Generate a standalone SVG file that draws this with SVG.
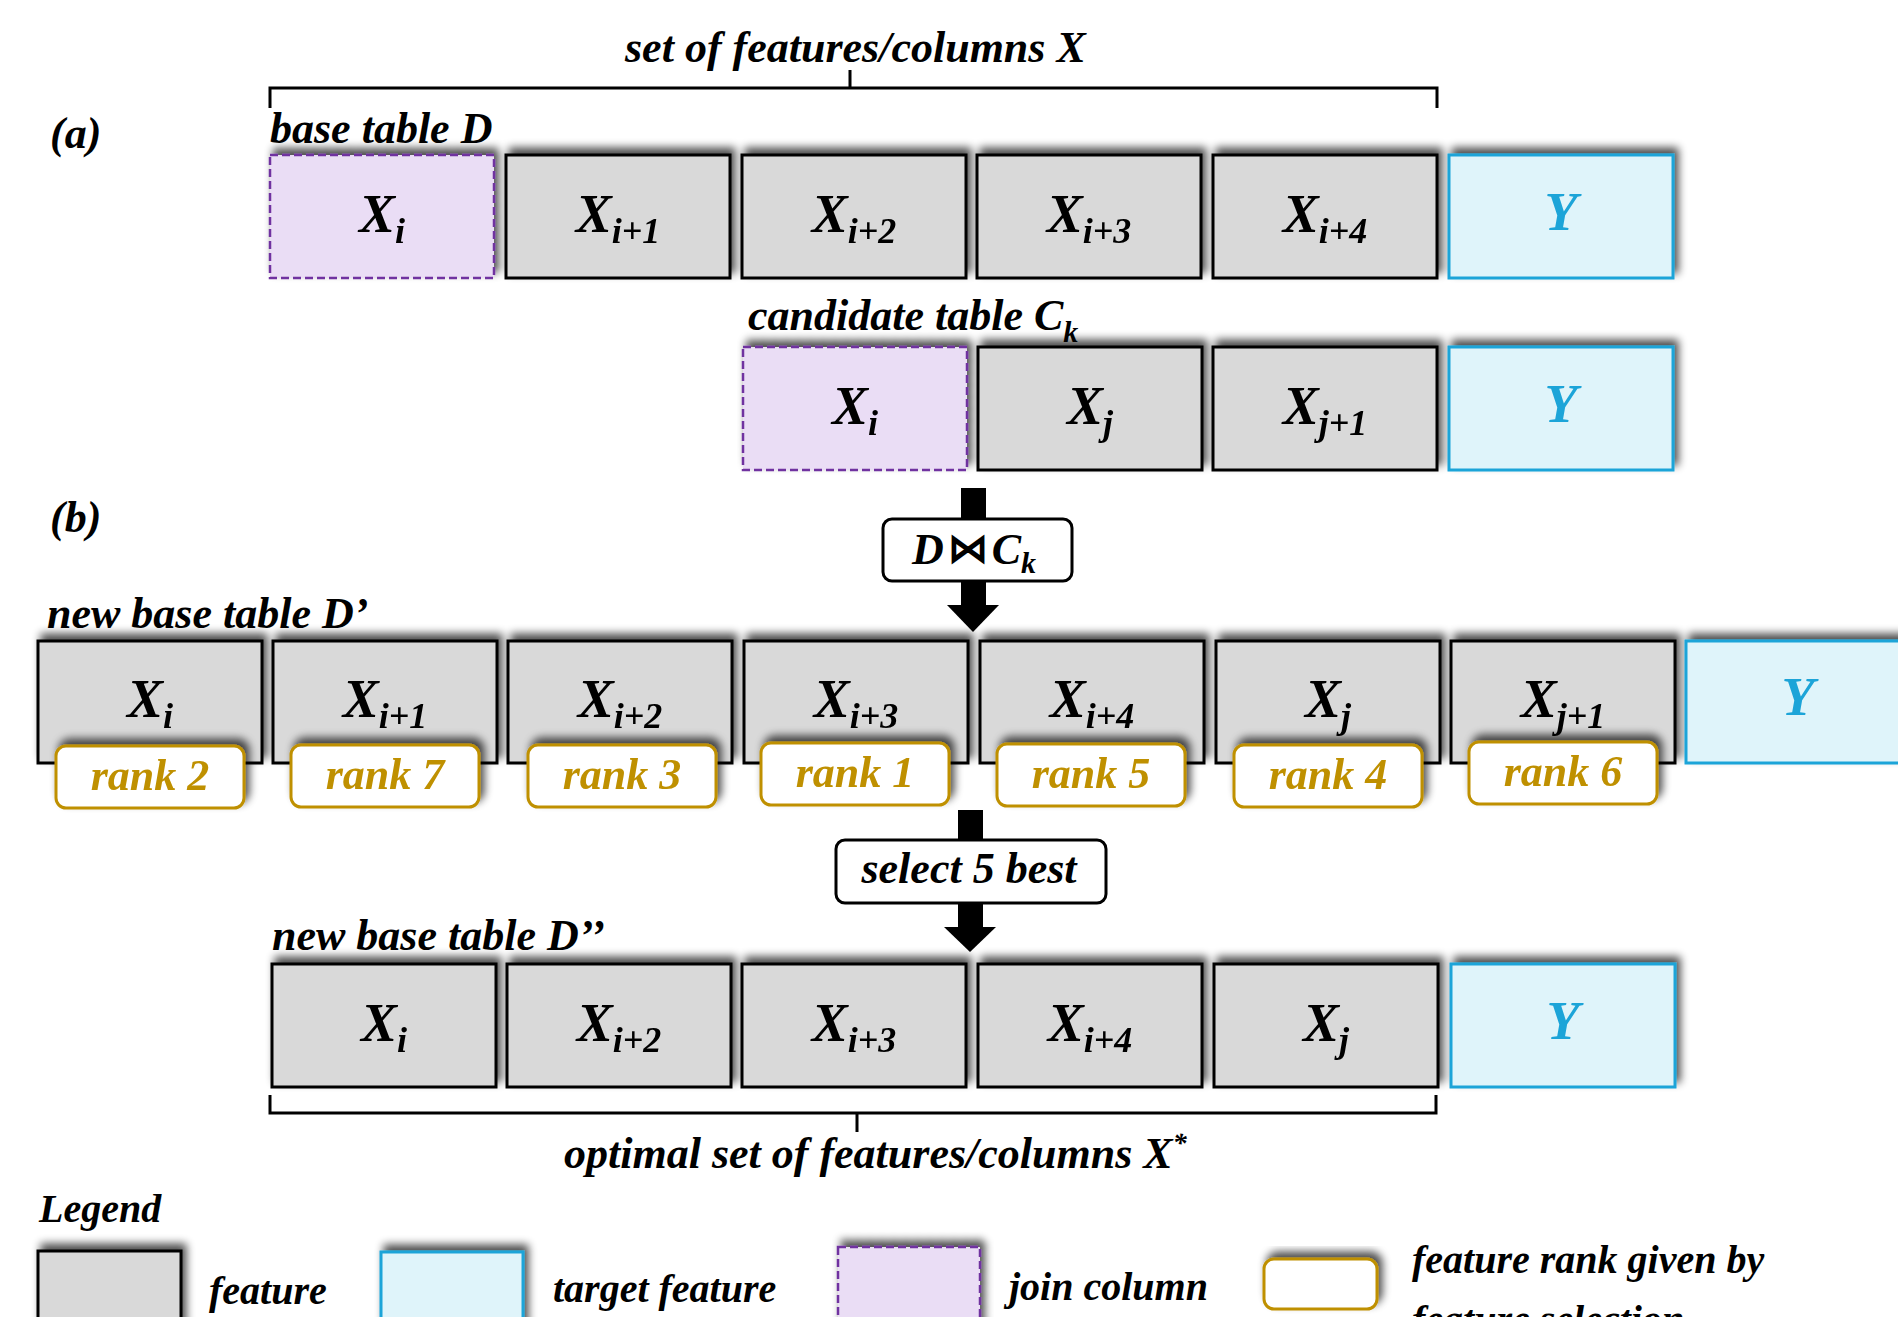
<svg xmlns="http://www.w3.org/2000/svg" width="1898" height="1317" viewBox="0 0 1898 1317">
<defs>
<style>
text{font-family:"Liberation Serif","DejaVu Serif",serif;font-weight:bold;font-style:italic;fill:#000}
.t44{font-size:44px}
.t40{font-size:40px}
.lbl{font-size:54px;text-anchor:middle}
.sub{font-size:36px}
.feat{fill:#D9D9D9;stroke:#000;stroke-width:3}
.join{fill:#EADDF5;stroke:#7030A0;stroke-width:2.5;stroke-dasharray:8 4}
.tgt{fill:#DFF4FA;stroke:#1CA4D8;stroke-width:3}
.ytxt{fill:#1CA4D8;font-size:54px;text-anchor:middle}
.rank{fill:#fff;stroke:#BF9000;stroke-width:3}
.rtxt{fill:#BF9000;font-size:44px;text-anchor:middle}
.op{fill:#fff;stroke:#000;stroke-width:3}
.br{fill:none;stroke:#000;stroke-width:3}
</style>
<filter id="sh" x="-15%" y="-25%" width="130%" height="150%">
<feGaussianBlur in="SourceAlpha" stdDeviation="4"/>
<feOffset dx="4" dy="-6" result="o"/>
<feComponentTransfer><feFuncA type="linear" slope="0.7"/></feComponentTransfer>
<feMerge><feMergeNode/><feMergeNode in="SourceGraphic"/></feMerge>
</filter>
</defs>
<rect width="1898" height="1317" fill="#fff"/>

<!-- titles / labels -->
<g id="labels">
<text class="t44" x="625" y="62">set of features/columns X</text>
<text class="t44" x="50" y="148">(a)</text>
<text class="t44" x="270" y="143">base table D</text>
<text class="t44" x="748" y="330">candidate table C<tspan font-size="30" dy="12">k</tspan></text>
<text class="t44" x="50" y="532">(b)</text>
<text class="t44" x="47" y="628">new base table D’</text>
<text class="t44" x="272" y="950">new base table D’’</text>
<text class="t44" x="564" y="1168">optimal set of features/columns X<tspan font-size="28" dy="-16">*</tspan></text>
</g>

<!-- brackets -->
<g id="brackets">
<path class="br" d="M270,108 V88 H1437 V108 M850,88 V70"/>
<path class="br" d="M270,1095 V1113 H1436 V1095 M857,1113 V1132"/>
</g>

<!-- row 1: base table D -->
<g id="rowD" filter="url(#sh)">
<g id="d-xi"><rect class="join" x="270" y="155" width="224" height="123"/><text class="lbl" x="382" y="232">X<tspan class="sub" dy="11">i</tspan></text></g>
<g id="d-xi1"><rect class="feat" x="506" y="155" width="224" height="123"/><text class="lbl" x="618" y="232">X<tspan class="sub" dy="11">i+1</tspan></text></g>
<g id="d-xi2"><rect class="feat" x="742" y="155" width="224" height="123"/><text class="lbl" x="854" y="232">X<tspan class="sub" dy="11">i+2</tspan></text></g>
<g id="d-xi3"><rect class="feat" x="977" y="155" width="224" height="123"/><text class="lbl" x="1089" y="232">X<tspan class="sub" dy="11">i+3</tspan></text></g>
<g id="d-xi4"><rect class="feat" x="1213" y="155" width="224" height="123"/><text class="lbl" x="1325" y="232">X<tspan class="sub" dy="11">i+4</tspan></text></g>
<g id="d-y"><rect class="tgt" x="1449" y="155" width="224" height="123"/><text class="ytxt" x="1561" y="230">Y</text></g>
</g>

<!-- row 2: candidate table Ck -->
<g id="rowC" filter="url(#sh)">
<g id="c-xi"><rect class="join" x="743" y="347" width="224" height="123"/><text class="lbl" x="855" y="424">X<tspan class="sub" dy="11">i</tspan></text></g>
<g id="c-xj"><rect class="feat" x="978" y="347" width="224" height="123"/><text class="lbl" x="1090" y="424">X<tspan class="sub" dy="11">j</tspan></text></g>
<g id="c-xj1"><rect class="feat" x="1213" y="347" width="224" height="123"/><text class="lbl" x="1325" y="424">X<tspan class="sub" dy="11">j+1</tspan></text></g>
<g id="c-y"><rect class="tgt" x="1449" y="347" width="224" height="123"/><text class="ytxt" x="1561" y="422">Y</text></g>
</g>

<!-- connectors -->
<g id="connectors" fill="#000">
<rect x="961" y="488" width="25" height="32"/>
<rect x="961" y="580" width="25" height="26"/>
<polygon points="947,605 999,605 973,632"/>
<rect x="958" y="810" width="25" height="31"/>
<rect x="958" y="902" width="25" height="26"/>
<polygon points="944,927 996,927 970,952"/>
</g>

<!-- operation boxes -->
<g id="op-join"><rect class="op" x="883" y="519" width="189" height="62" rx="9"/><text class="t44" x="974" y="564" text-anchor="middle">D<tspan dx="4" font-size="40" font-style="normal" dy="-2">⋈</tspan><tspan dx="4" dy="2">C</tspan><tspan font-size="30" dy="9">k</tspan></text></g>
<g id="op-select"><rect class="op" x="836" y="840" width="270" height="63" rx="9"/><text class="t44" x="969" y="883" text-anchor="middle">select 5 best</text></g>

<!-- row 3: new base table D' -->
<g id="rowD1" filter="url(#sh)">
<g id="d1-xi"><rect class="feat" x="38" y="641" width="224" height="122"/><text class="lbl" x="150" y="717">X<tspan class="sub" dy="11">i</tspan></text></g>
<g id="d1-xi1"><rect class="feat" x="273" y="641" width="224" height="122"/><text class="lbl" x="385" y="717">X<tspan class="sub" dy="11">i+1</tspan></text></g>
<g id="d1-xi2"><rect class="feat" x="508" y="641" width="224" height="122"/><text class="lbl" x="620" y="717">X<tspan class="sub" dy="11">i+2</tspan></text></g>
<g id="d1-xi3"><rect class="feat" x="744" y="641" width="224" height="122"/><text class="lbl" x="856" y="717">X<tspan class="sub" dy="11">i+3</tspan></text></g>
<g id="d1-xi4"><rect class="feat" x="980" y="641" width="224" height="122"/><text class="lbl" x="1092" y="717">X<tspan class="sub" dy="11">i+4</tspan></text></g>
<g id="d1-xj"><rect class="feat" x="1216" y="641" width="224" height="122"/><text class="lbl" x="1328" y="717">X<tspan class="sub" dy="11">j</tspan></text></g>
<g id="d1-xj1"><rect class="feat" x="1451" y="641" width="224" height="122"/><text class="lbl" x="1563" y="717">X<tspan class="sub" dy="11">j+1</tspan></text></g>
<g id="d1-y"><rect class="tgt" x="1686" y="641" width="224" height="122"/><text class="ytxt" x="1798" y="715">Y</text></g>
</g>

<!-- rank badges -->
<g id="ranks" filter="url(#sh)">
<g id="r2"><rect class="rank" x="56" y="746" width="188" height="62" rx="10"/><text class="rtxt" x="150" y="790">rank 2</text></g>
<g id="r7"><rect class="rank" x="291" y="745" width="188" height="62" rx="10"/><text class="rtxt" x="385" y="789">rank 7</text></g>
<g id="r3"><rect class="rank" x="528" y="745" width="188" height="62" rx="10"/><text class="rtxt" x="622" y="789">rank 3</text></g>
<g id="r1"><rect class="rank" x="761" y="743" width="188" height="62" rx="10"/><text class="rtxt" x="855" y="787">rank 1</text></g>
<g id="r5"><rect class="rank" x="997" y="744" width="188" height="62" rx="10"/><text class="rtxt" x="1091" y="788">rank 5</text></g>
<g id="r4"><rect class="rank" x="1234" y="745" width="188" height="62" rx="10"/><text class="rtxt" x="1328" y="789">rank 4</text></g>
<g id="r6"><rect class="rank" x="1469" y="742" width="188" height="62" rx="10"/><text class="rtxt" x="1563" y="786">rank 6</text></g>
</g>

<!-- row 4: new base table D'' -->
<g id="rowD2" filter="url(#sh)">
<g id="d2-xi"><rect class="feat" x="272" y="964" width="224" height="123"/><text class="lbl" x="384" y="1041">X<tspan class="sub" dy="11">i</tspan></text></g>
<g id="d2-xi2"><rect class="feat" x="507" y="964" width="224" height="123"/><text class="lbl" x="619" y="1041">X<tspan class="sub" dy="11">i+2</tspan></text></g>
<g id="d2-xi3"><rect class="feat" x="742" y="964" width="224" height="123"/><text class="lbl" x="854" y="1041">X<tspan class="sub" dy="11">i+3</tspan></text></g>
<g id="d2-xi4"><rect class="feat" x="978" y="964" width="224" height="123"/><text class="lbl" x="1090" y="1041">X<tspan class="sub" dy="11">i+4</tspan></text></g>
<g id="d2-xj"><rect class="feat" x="1214" y="964" width="224" height="123"/><text class="lbl" x="1326" y="1041">X<tspan class="sub" dy="11">j</tspan></text></g>
<g id="d2-y"><rect class="tgt" x="1451" y="964" width="224" height="123"/><text class="ytxt" x="1563" y="1039">Y</text></g>
</g>

<!-- legend -->
<g id="legend">
<text class="t40" x="39" y="1222">Legend</text>
<g id="lg-feature"><rect class="feat" x="38" y="1251" width="143" height="120" filter="url(#sh)"/><text class="t40" x="209" y="1304">feature</text></g>
<g id="lg-target"><rect class="tgt" x="381" y="1252" width="142" height="120" filter="url(#sh)"/><text class="t40" x="553" y="1302">target feature</text></g>
<g id="lg-join"><rect class="join" x="838" y="1247" width="142" height="120" filter="url(#sh)"/><text class="t40" x="1009" y="1300">join column</text></g>
<g id="lg-rank"><rect class="rank" x="1264" y="1259" width="113" height="50" rx="10" filter="url(#sh)"/><text class="t40" x="1412" y="1273">feature rank given by</text><text class="t40" x="1412" y="1333">feature selection</text></g>
</g>
</svg>
